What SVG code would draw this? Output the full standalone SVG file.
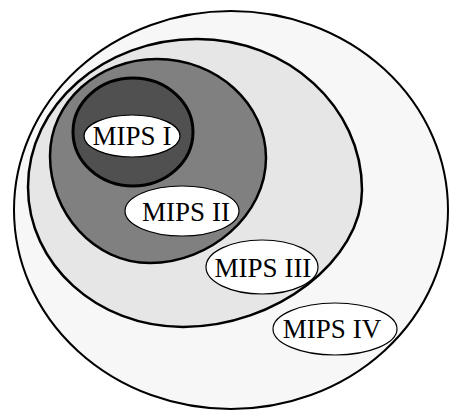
<svg xmlns="http://www.w3.org/2000/svg" width="449" height="411" viewBox="0 0 449 411">
<style>
.set{stroke:#000;stroke-width:2.5}
.lab{fill:#fff;stroke:#000;stroke-width:1.2}
text{font-family:"Liberation Serif","DejaVu Serif",serif;font-size:27px;fill:#000;text-anchor:middle}
</style>
<rect width="449" height="411" fill="#fff"/>
<g id="mips4">
<ellipse class="set" cx="231" cy="210" rx="217" ry="199" fill="#f7f7f7" style="stroke-width:2"/>
</g>
<g id="mips3">
<path class="set" fill="#e6e6e6" d="M197,39 C288,39 362,107 362,190 C362,260 276,327 183,327 C97,327 28,264 28,187 C28,105 104,39 197,39 Z"/>
</g>
<g id="mips2">
<path class="set" fill="#808080" d="M157,59 C217,59 266,104 266,158 C266,215 210,263 150,263 C94,263 50,213 50,156 C50,102 98,59 157,59 Z"/>
</g>
<g id="mips1">
<ellipse class="set" cx="133" cy="132" rx="60" ry="54" fill="#505050" style="stroke-width:3"/>
</g>
<g id="label-mips1">
<ellipse class="lab" cx="132" cy="136" rx="48" ry="21"/>
<text x="132" y="145">MIPS I</text>
</g>
<g id="label-mips2">
<ellipse class="lab" cx="182" cy="211" rx="57" ry="25"/>
<text x="186" y="221">MIPS II</text>
</g>
<g id="label-mips3">
<ellipse class="lab" cx="262" cy="267" rx="56" ry="27"/>
<text x="263" y="277">MIPS III</text>
</g>
<g id="label-mips4">
<ellipse class="lab" cx="335" cy="329" rx="62" ry="26"/>
<text x="332" y="338">MIPS IV</text>
</g>
<g id="connectors"/>
</svg>
